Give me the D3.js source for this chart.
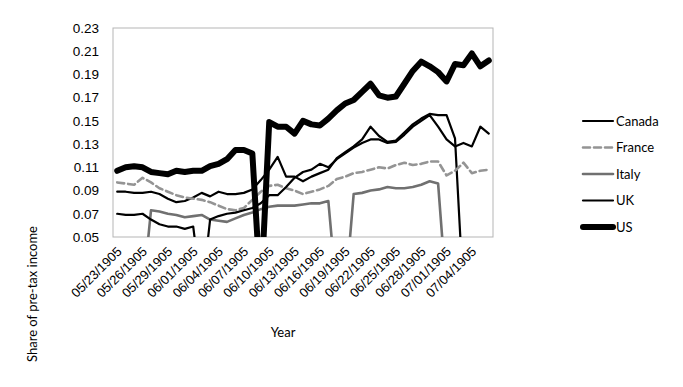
<!DOCTYPE html>
<html>
<head>
<meta charset="utf-8">
<script src="https://cdn.jsdelivr.net/npm/d3@7"></script>
<style>
  body { margin: 0; background: #fff; }
  svg { font-family: Lato, "Open Sans", sans-serif; }
</style>
</head>
<body>
<div id="chart"></div>
<script>
// years 1970..2014 (Excel shows them as day serials, hence the 1905 dates)
const years = [1970, 1971, 1972, 1973, 1974, 1975, 1976, 1977, 1978, 1979,
               1980, 1981, 1982, 1983, 1984, 1985, 1986, 1987, 1988, 1989,
               1990, 1991, 1992, 1993, 1994, 1995, 1996, 1997, 1998, 1999,
               2000, 2001, 2002, 2003, 2004, 2005, 2006, 2007, 2008, 2009,
               2010, 2011, 2012, 2013, 2014];
const tickYears = [1970, 1973, 1976, 1979, 1982, 1985, 1988, 1991, 1994, 1997, 2000, 2003, 2006, 2009, 2012];
const tickLabels = ["05/23/1905", "05/26/1905", "05/29/1905", "06/01/1905", "06/04/1905",
                    "06/07/1905", "06/10/1905", "06/13/1905", "06/16/1905", "06/19/1905",
                    "06/22/1905", "06/25/1905", "06/28/1905", "07/01/1905", "07/04/1905"];
const yTicks = [0.05, 0.07, 0.09, 0.11, 0.13, 0.15, 0.17, 0.19, 0.21, 0.23];

const canada = [0.089, 0.089, 0.088, 0.088, 0.089, 0.087, 0.083, 0.080, 0.081, 0.084,
                0.088, 0.085, 0.089, 0.087, 0.087, 0.088, 0.091, 0.099, 0.108, 0.119,
                0.102, 0.102, 0.098, 0.102, 0.105, 0.108, 0.118, 0.123, 0.128, 0.134,
                0.145, 0.137, 0.132, 0.133, 0.140, 0.147, 0.152, 0.156, 0.155, 0.155,
                0.135, 0, 0, 0, 0];
const france = [0.097, 0.096, 0.095, 0.101, 0.097, 0.092, 0.089, 0.086, 0.084, 0.083,
                0.082, 0.080, 0.077, 0.074, 0.073, 0.075, 0.082, 0.089, 0.094, 0.095,
                0.092, 0.090, 0.087, 0.089, 0.091, 0.094, 0.100, 0.102, 0.105, 0.106,
                0.108, 0.110, 0.109, 0.112, 0.114, 0.112, 0.113, 0.115, 0.115, 0.103,
                0.107, 0.114, 0.105, 0.107, 0.108];
const italy = [0, 0, 0, 0, 0.073, 0.072, 0.070, 0.069, 0.067, 0.068,
               0.069, 0.065, 0.064, 0.063, 0.066, 0.069, 0.071, 0.074, 0.076, 0.077,
               0.077, 0.077, 0.078, 0.079, 0.079, 0.081, 0, 0, 0.087, 0.088,
               0.090, 0.091, 0.093, 0.092, 0.092, 0.093, 0.095, 0.098, 0.096, 0,
               0, 0, 0, 0, 0];
const uk = [0.070, 0.069, 0.069, 0.070, 0.065, 0.061, 0.059, 0.059, 0.057, 0.059,
            0, 0.065, 0.068, 0.070, 0.071, 0.073, 0.075, 0.079, 0.086, 0.086,
            0.093, 0.101, 0.106, 0.108, 0.113, 0.110, 0.117, 0.122, 0.127, 0.131,
            0.134, 0.134, 0.131, 0.132, 0.138, 0.145, 0.150, 0.155, 0.145, 0.134,
            0.128, 0.131, 0.128, 0.145, 0.139];
const us = [0.107, 0.110, 0.111, 0.110, 0.106, 0.105, 0.104, 0.107, 0.106, 0.107,
            0.107, 0.111, 0.113, 0.117, 0.125, 0.125, 0.122, 0, 0.149, 0.145,
            0.145, 0.139, 0.150, 0.147, 0.146, 0.152, 0.159, 0.165, 0.168, 0.175,
            0.182, 0.172, 0.170, 0.171, 0.182, 0.193, 0.201, 0.197, 0.192, 0.184,
            0.199, 0.198, 0.208, 0.197, 0.202];

const seriesNames = ["Canada", "France", "Italy", "UK", "US"];
const seriesValues = [canada, france, italy, uk, us];
const seriesStyle = {
    "Canada": { color: "#000000", width: 2.2, dash: null },
    "France": { color: "#949494", width: 2.6, dash: "7,4" },
    "Italy":  { color: "#707070", width: 2.6, dash: null },
    "UK":     { color: "#000000", width: 2.2, dash: null },
    "US":     { color: "#000000", width: 6, dash: null }
};

const W = 683, H = 387;
const margin = { top: 28, right: 190, bottom: 150, left: 113 };
const width = W - margin.left - margin.right;
const height = H - margin.top - margin.bottom;

const svg = d3.select("#chart").append("svg")
    .attr("width", W)
    .attr("height", H);

const g = svg.append("g")
    .attr("transform", "translate(" + margin.left + "," + margin.top + ")");

const x = d3.scaleBand()
    .domain(years)
    .range([0, width]);

const y = d3.scaleLinear()
    .domain([0.05, 0.23])
    .range([height, 0]);

g.append("clipPath").attr("id", "plotclip")
    .append("rect")
    .attr("width", width)
    .attr("height", height);

// y axis labels
const yAxis = g.append("g")
    .attr("class", "y-axis")
    .call(d3.axisLeft(y).tickValues(yTicks).tickSize(0).tickPadding(14).tickFormat(d3.format(".2f")));
yAxis.select(".domain").remove();
yAxis.selectAll("text")
    .attr("font-size", "13.5px")
    .attr("fill", "#000");

// x axis labels, rotated
const xAxis = g.append("g")
    .attr("class", "x-axis")
    .attr("transform", "translate(0," + height + ")")
    .call(d3.axisBottom(x).tickValues(tickYears).tickSize(0)
        .tickFormat(function(d) { return tickLabels[tickYears.indexOf(d)]; }));
xAxis.select(".domain").remove();
xAxis.selectAll("text")
    .attr("font-size", "13px")
    .attr("fill", "#000")
    .attr("text-anchor", "end")
    .attr("dy", "0.35em")
    .attr("transform", "translate(0,10) rotate(-45)");

// plot border
g.append("rect")
    .attr("width", width)
    .attr("height", height)
    .attr("fill", "none")
    .attr("stroke", "#b5b5b5")
    .attr("stroke-width", 1);

const line = d3.line()
    .x(function(d, i) { return x(years[i]) + x.bandwidth() / 2; })
    .y(function(d) { return y(d); });

const lines = g.append("g").attr("clip-path", "url(#plotclip)");
seriesNames.forEach(function(name, k) {
    const s = seriesStyle[name];
    lines.append("path")
        .datum(seriesValues[k])
        .attr("fill", "none")
        .attr("stroke", s.color)
        .attr("stroke-width", s.width)
        .attr("stroke-linejoin", "round")
        .attr("stroke-linecap", "round")
        .attr("stroke-dasharray", s.dash)
        .attr("d", line);
});

// legend
const legend = svg.append("g").attr("transform", "translate(582,121)");
seriesNames.forEach(function(name, k) {
    const s = seriesStyle[name];
    const row = legend.append("g").attr("transform", "translate(0," + (k * 26.5) + ")");
    row.append("line")
        .attr("x1", 1).attr("x2", 31)
        .attr("stroke", s.color)
        .attr("stroke-width", s.width)
        .attr("stroke-linecap", "round")
        .attr("stroke-dasharray", s.dash);
    row.append("text")
        .attr("x", 34)
        .attr("dy", "0.35em")
        .attr("font-size", "13px")
        .text(name);
});

// axis titles
svg.append("text")
    .attr("x", 283)
    .attr("y", 332)
    .attr("dy", "0.35em")
    .attr("text-anchor", "middle")
    .attr("font-size", "13px")
    .text("Year");

svg.append("text")
    .attr("transform", "translate(32,294) rotate(-90)")
    .attr("dy", "0.35em")
    .attr("text-anchor", "middle")
    .attr("font-size", "13px")
    .text("Share of pre-tax income");
</script>
</body>
</html>
